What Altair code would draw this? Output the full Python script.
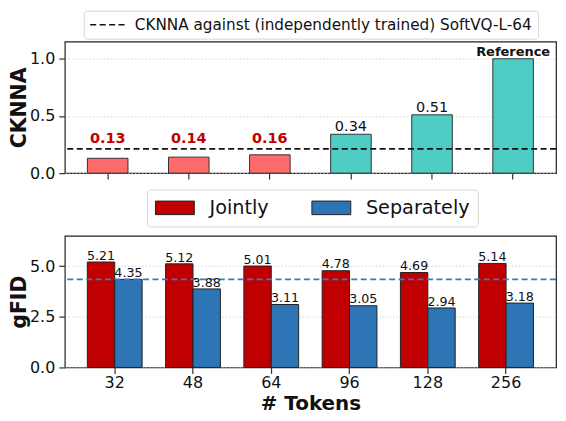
import altair as alt
import pandas as pd

# ---------------- data ----------------
tokens = ["32", "48", "64", "96", "128", "256"]
cknna = [0.13, 0.14, 0.16, 0.34, 0.51, 1.00]
cknna_text = ["0.13", "0.14", "0.16", "0.34", "0.51", "Reference"]
cknna_softvq = 0.212
line_label = "CKNNA against (independently trained) SoftVQ-L-64"

series = ["Jointly", "Separately"]
gfid_jointly = [5.21, 5.12, 5.01, 4.78, 4.69, 5.14]
gfid_separately = [4.35, 3.88, 3.11, 3.05, 2.94, 3.18]
gfid_line = 4.35

FONT = "DejaVu Sans"
W, H = 493, 132

# ---------------- top panel ----------------
top_df = pd.DataFrame({"tok": tokens, "v": cknna, "txt": cknna_text})
top_df["kind"] = [
    "ref" if t == "Reference" else ("low" if v < cknna_softvq else "high")
    for t, v in zip(cknna_text, cknna)
]
top_df["ly"] = [max(v, cknna_softvq) for v in cknna]

rule_df = pd.DataFrame({"name": [line_label], "v": [cknna_softvq]})

xt = alt.X(
    "tok:N", sort=tokens,
    scale=alt.Scale(paddingInner=0.5, paddingOuter=0.279),
    axis=alt.Axis(labels=False, title=None, ticks=True, grid=False),
)
yt_axis = alt.Axis(values=[0, 0.5, 1.0], format=".1f", title="CKNNA", grid=True)
yscale_t = alt.Scale(domain=[0, 1.15], nice=False, zero=True)

top_bars = alt.Chart(top_df).mark_bar(stroke="#333", strokeWidth=1).encode(
    x=xt,
    y=alt.Y("v:Q", scale=yscale_t, axis=yt_axis),
    fill=alt.condition(alt.datum.kind == "low", alt.value("#FF6B6B"), alt.value("#4ECDC4")),
)

top_rule = alt.Chart(rule_df).mark_rule(strokeDash=[6, 3.5], strokeWidth=1.6).encode(
    y=alt.Y("v:Q", scale=yscale_t, axis=yt_axis),
    stroke=alt.Stroke(
        "name:N",
        scale=alt.Scale(domain=[line_label], range=["#111111"]),
        legend=alt.Legend(
            title=None, orient="none", legendX=19, legendY=-31, direction="horizontal",
            symbolType="M-1,0H3.9", symbolSize=225, symbolStrokeWidth=1.6,
            symbolDash=[6, 3.5], labelFontSize=15.3, labelFont=FONT, labelColor="#111111",
            labelLimit=0, labelOffset=28.75, padding=5.5, fillColor="white",
            strokeColor="#d6d6d6", cornerRadius=3,
        ),
    ),
)

low_txt = alt.Chart(top_df).transform_filter(alt.datum.kind == "low").mark_text(
    fontSize=14.5, fontWeight="bold", color="#C00000", baseline="alphabetic", dy=-5.5
).encode(x=xt, y=alt.Y("ly:Q", scale=yscale_t, axis=yt_axis), text="txt:N")

high_txt = alt.Chart(top_df).transform_filter(alt.datum.kind == "high").mark_text(
    fontSize=14.5, color="#111111", baseline="alphabetic", dy=-3
).encode(x=xt, y=alt.Y("ly:Q", scale=yscale_t, axis=yt_axis), text="txt:N")

ref_txt = alt.Chart(top_df).transform_filter(alt.datum.kind == "ref").mark_text(
    fontSize=13, fontWeight="bold", color="#111111", baseline="alphabetic", dy=-2.7
).encode(x=xt, y=alt.Y("ly:Q", scale=yscale_t, axis=yt_axis), text="txt:N")

top = alt.layer(top_bars, top_rule, low_txt, high_txt, ref_txt).properties(width=W, height=H)

# ---------------- bottom panel ----------------
bot_df = pd.DataFrame({
    "tok": tokens * 2,
    "series": [series[0]] * len(tokens) + [series[1]] * len(tokens),
    "v": gfid_jointly + gfid_separately,
})
bot_df["txt"] = [f"{v:.2f}" for v in bot_df["v"]]

xb = alt.X(
    "tok:N", sort=tokens,
    scale=alt.Scale(paddingInner=0.3, paddingOuter=0.288),
    axis=alt.Axis(title="# Tokens", labelAngle=0, grid=False, labelPadding=1,
                  titlePadding=3, titleFontSize=20),
)
xo = alt.XOffset("series:N", sort=series, scale=alt.Scale(paddingInner=0, paddingOuter=0))
yscale_b = alt.Scale(domain=[0, 6.5], nice=False, zero=True)
yb_axis = alt.Axis(values=[0, 2.5, 5.0], format=".1f", title="gFID", grid=True)

bot_bars = alt.Chart(bot_df).mark_bar(stroke="#222", strokeWidth=1).encode(
    x=xb, xOffset=xo,
    y=alt.Y("v:Q", scale=yscale_b, axis=yb_axis),
    fill=alt.Fill(
        "series:N",
        scale=alt.Scale(domain=series, range=["#C00000", "#2E75B6"]),
        legend=alt.Legend(
            title=None, orient="none", legendX=82.5, legendY=-46.5, direction="horizontal",
            symbolType="M-1,-0.716H3.105V0.716H-1Z", symbolSize=361,
            symbolStrokeColor="#222222", symbolStrokeWidth=1, symbolOpacity=1,
            labelFontSize=19.3, labelFont=FONT, labelColor="#111111", labelLimit=0,
            labelOffset=34.7, columnPadding=40, padding=8,
            fillColor="white", strokeColor="#d6d6d6", cornerRadius=3,
        ),
    ),
)

bot_rule = alt.Chart(pd.DataFrame({"v": [gfid_line]})).mark_rule(
    color="#3A78C0", strokeDash=[6, 3.5], strokeWidth=1.6
).encode(y=alt.Y("v:Q", scale=yscale_b, axis=yb_axis))

bot_txt = alt.Chart(bot_df).mark_text(
    fontSize=12.7, color="#111111", baseline="alphabetic", dy=-2.3
).encode(x=xb, xOffset=xo, y=alt.Y("v:Q", scale=yscale_b, axis=yb_axis), text="txt:N")

bottom = alt.layer(bot_bars, bot_rule, bot_txt).properties(width=W, height=H)

chart = (
    alt.vconcat(top, bottom, spacing=63, bounds="flush")
    .resolve_scale(x="independent", fill="independent", stroke="independent")
    .resolve_legend(fill="independent", stroke="independent")
    .properties(padding=0)
    .configure(font=FONT)
    .configure_view(stroke="#222222", strokeWidth=1.2)
    .configure_axis(
        labelFont=FONT, titleFont=FONT, labelColor="#111111", titleColor="#111111",
        labelFontSize=16, titleFontSize=20.5, titleFontWeight="bold",
        tickColor="#333333", tickSize=6, tickWidth=1.2, domain=False,
        gridColor="#c8c8c8", gridDash=[1.5, 2], gridWidth=0.8,
    )
    .configure_axisY(labelPadding=4, titlePadding=0)
)

chart.save("out.html", embed_options={"renderer": "svg", "actions": False})
